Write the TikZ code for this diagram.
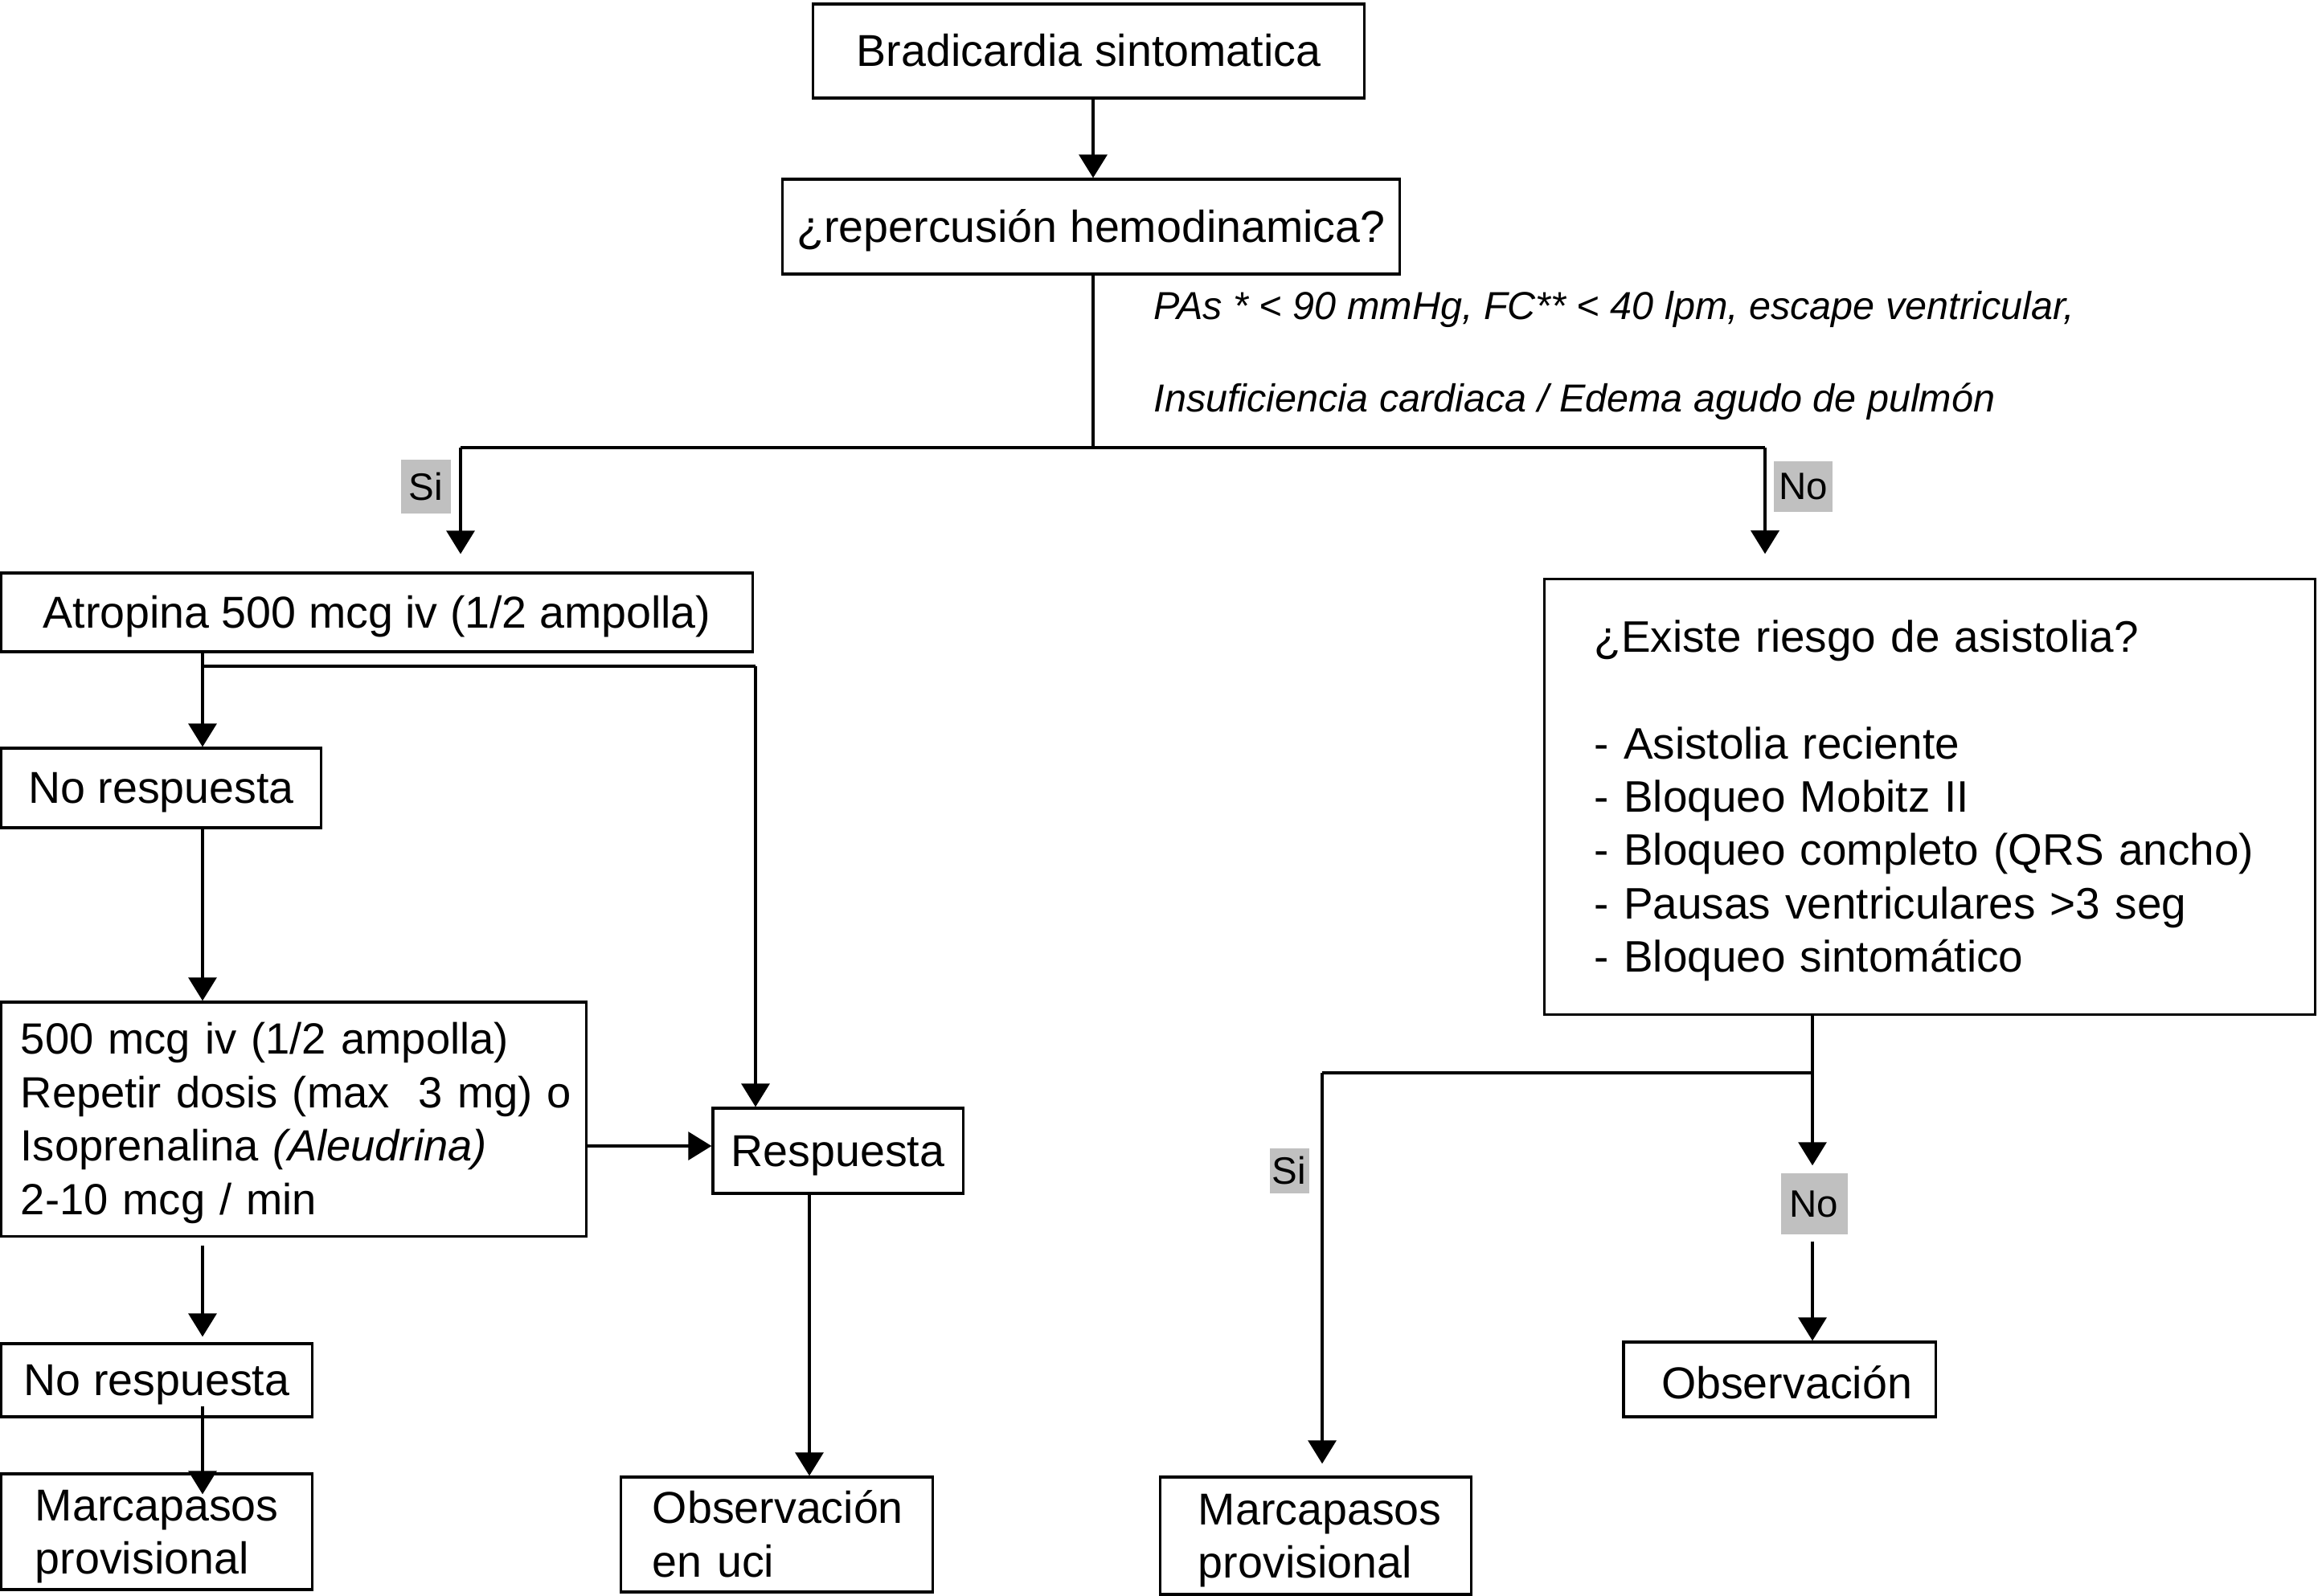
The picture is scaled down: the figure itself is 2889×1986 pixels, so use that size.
\documentclass[tikz,border=0pt]{standalone}
\usepackage{fontspec}
\setmainfont{Liberation Sans}
\usetikzlibrary{arrows.meta}
\definecolor{labgray}{RGB}{192,192,192}
\newcommand{\mainsz}{\fontsize{15.8pt}{18.9pt}\selectfont}
\newcommand{\dosesz}{\fontsize{15.45pt}{18.9pt}\selectfont}
\newcommand{\existsz}{\fontsize{15.6pt}{18.9pt}\selectfont}
\newcommand{\labsz}{\fontsize{13.5pt}{16pt}\selectfont}
\newcommand{\itsz}{\fontsize{13.8pt}{16pt}\selectfont}
\newcommand{\stl}{\rule[-0.212em]{0pt}{1.117em}}
\newcommand{\tline}[1]{\mbox{\stl\smash{#1}}}
\begin{document}
\begin{tikzpicture}[x=0.01cm,y=-0.01cm,
  box/.style={draw, line width=0.9pt, rectangle, inner sep=0pt, font=\mainsz},
  lbox/.style={box, align=left},
  lab/.style={fill=labgray, inner sep=0pt, font=\labsz},
  arr/.style={-{Triangle[length=0.29cm,width=0.35cm]}, line width=0.9pt},
  wire/.style={line width=0.9pt}]
\useasboundingbox (0,0) rectangle (2889,1986);
\fill[white] (0,0) rectangle (2889,1986);

% boxes
\node[box, minimum width=6.85cm, minimum height=1.17cm] (b1) at (1354.5,63.5) {\tline{Bradicardia sintomatica}};
\node[box, minimum width=7.67cm, minimum height=1.18cm] (b2) at (1357.5,282) {\tline{¿repercusión hemodinamica?}};
\node[anchor=base west, inner sep=0pt, font=\itsz\itshape] (c1) at (1435,398) {PAs * < 90 mmHg, FC** < 40 lpm, escape ventricular,};
\node[anchor=base west, inner sep=0pt, font=\itsz\itshape] (c2) at (1435,513) {Insuficiencia cardiaca / Edema agudo de pulmón};

\node[box, minimum width=9.34cm, minimum height=0.98cm] (atr) at (469,762) {\tline{Atropina 500 mcg iv (1/2 ampolla)}};
\node[box, minimum width=3.97cm, minimum height=0.99cm] (nr1) at (200.5,980.5) {\tline{No respuesta}};
\node[lbox, font=\dosesz, minimum width=7.27cm, minimum height=2.91cm, text width=6.79cm] (dose) at (365.5,1392.5)
  {\tline{500 mcg iv (1/2 ampolla)}\\ \tline{Repetir dosis (max\ \ 3 mg) o}\\ \tline{Isoprenalina \textit{(Aleudrina)}}\\ \tline{2-10 mcg / min}};
\node[box, minimum width=3.11cm, minimum height=1.06cm] (resp) at (1042.5,1432) {\tline{Respuesta}};
\node[box, minimum width=3.86cm, minimum height=0.91cm] (nr2) at (195,1717.5) {\tline{No respuesta}};
\node[lbox, minimum width=3.86cm, minimum height=1.44cm, text width=3.02cm] (mp1) at (195,1906)
  {\tline{Marcapasos}\\ \tline{provisional}};
\node[lbox, minimum width=3.87cm, minimum height=1.43cm, text width=3.09cm] (obsuci) at (966.5,1909.5)
  {\tline{Observación}\\ \tline{en uci}};

\node[lbox, font=\existsz, minimum width=9.58cm, minimum height=5.41cm, text width=8.34cm] (exist) at (2401,991.5)
  {\tline{¿Existe riesgo de asistolia?}\\ \tline{}\\ \tline{- Asistolia reciente}\\ \tline{- Bloqueo Mobitz II}\\
   \tline{- Bloqueo completo (QRS ancho)}\\ \tline{- Pausas ventriculares >3 seg}\\ \tline{- Bloqueo sintomático}};
\node[box, minimum width=3.88cm, minimum height=0.93cm] (obs) at (2214,1716.5) {\tline{\raisebox{-0.05cm}{\hspace*{0.18cm}Observación}}};
\node[lbox, minimum width=3.86cm, minimum height=1.46cm, text width=2.92cm] (mp2) at (1637,1911)
  {\tline{Marcapasos}\\ \tline{provisional}};

% labels
\node[lab, minimum width=0.62cm, minimum height=0.67cm] (si1) at (530,605.5) {Si};
\node[lab, minimum width=0.73cm, minimum height=0.63cm] (no1) at (2243.5,605.5) {No};
\node[lab, minimum width=0.49cm, minimum height=0.56cm] (si2) at (1604,1457) {Si};
\node[lab, minimum width=0.83cm, minimum height=0.76cm] (no2) at (2257,1498) {No};

% junctions
\coordinate (jt) at (1360,557);
\coordinate (jl) at (573,557);
\coordinate (jr) at (2196,557);
\coordinate (ja) at (252,829);
\coordinate (jb) at (940,829);
\coordinate (je) at (2255,1335);
\coordinate (jf) at (1645,1335);

% connectors
\draw[arr] (b1.south -| jt) -- (b2.north -| jt);
\draw[wire] (b2.south -| jt) -- (jt);
\draw[wire] (jl) -- (jr);
\draw[arr, shorten >=0.22cm] (jl) -- (atr.north -| jl);
\draw[arr, shorten >=0.30cm] (jr) -- (exist.north -| jr);

\draw[arr] (atr.south -| ja) -- (nr1.north -| ja);
\draw[wire] (ja) -- (jb);
\draw[arr] (jb) -- (resp.north -| jb);
\draw[arr] (nr1.south -| ja) -- (dose.north -| ja);
\draw[arr] ([yshift=-0.335cm]dose.east) -- ([yshift=-0.335cm]dose.east -| resp.west);
\draw[arr, shorten <=0.10cm, shorten >=0.07cm] (dose.south -| ja) -- (nr2.north -| ja);
\draw[arr, shorten <=-0.15cm, shorten >=-0.27cm] (nr2.south -| ja) -- (mp1.north -| ja);
\draw[arr] ([xshift=-0.355cm]resp.south) -- ([xshift=-0.355cm]resp.south |- obsuci.north);

\draw[wire] (exist.south -| je) -- (je);
\draw[arr, shorten >=0.09cm] (je) -- (no2.north -| je);
\draw[wire] (je) -- (jf);
\draw[arr, shorten >=0.15cm] (jf) -- (mp2.north -| jf);
\draw[arr, shorten <=0.08cm] (no2.south -| je) -- (obs.north -| je);
\end{tikzpicture}
\end{document}
